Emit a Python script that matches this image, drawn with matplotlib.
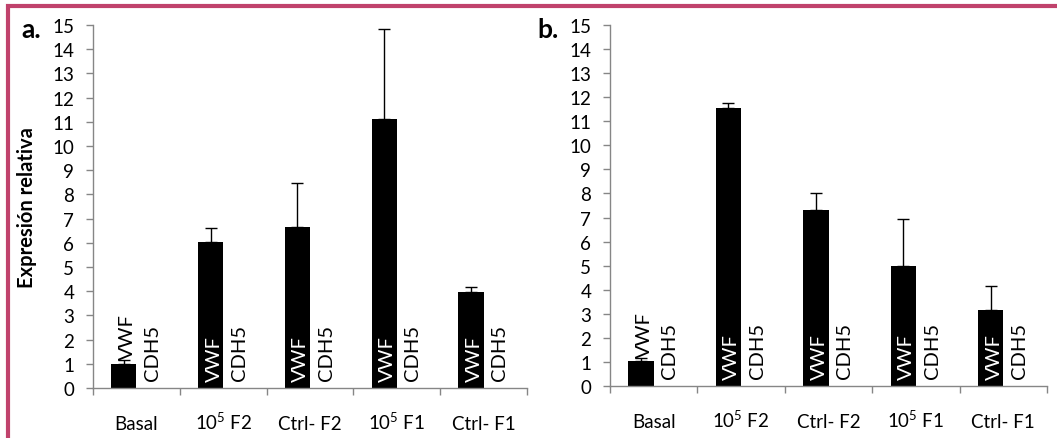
import matplotlib
matplotlib.use("Agg")
import matplotlib.pyplot as plt
import matplotlib.transforms as mtransforms
from matplotlib.patches import Rectangle
import numpy as np

plt.rcParams['font.family'] = ['Lato', 'DejaVu Sans']
plt.rcParams['mathtext.fontset'] = 'custom'
plt.rcParams['mathtext.rm'] = 'Lato'
plt.rcParams['mathtext.it'] = 'Lato'

# Data
categories = ["Basal", "10$^{5}$ F2", "Ctrl- F2", "10$^{5}$ F1", "Ctrl- F1"]
genes = ["VWF", "CDH5"]

vwf_a = [1.0, 6.05, 6.67, 11.1, 3.97]
vwf_a_err = [0.14, 0.57, 1.82, 3.72, 0.19]
cdh5_a = [0.0, 0.0, 0.0, 0.0, 0.0]

vwf_b = [1.02, 11.55, 7.32, 5.0, 3.14]
vwf_b_err = [0.13, 0.22, 0.72, 1.93, 1.0]
cdh5_b = [0.0, 0.0, 0.0, 0.0, 0.0]

W, H = 1057, 439
fig = plt.figure(figsize=(W / 100, H / 100), dpi=100)

AXIS_GRAY = "#868686"
BORDER = "#C0426C"
TICK_FS = 13.5
BAR_FS = 14.5


def px_rect(l, t, r, b):
    return [l / W, 1 - b / H, (r - l) / W, (b - t) / H]


def draw_panel(ax, vwf, vwf_err, cdh5, show_ylabel):
    x = np.arange(len(categories))
    width = 0.29
    ax.bar(x - width / 2, vwf, width, color="black", zorder=2)
    ax.errorbar(x - width / 2, vwf, yerr=[np.zeros(len(vwf)), vwf_err],
                fmt="none", ecolor="black", elinewidth=1.0, capsize=4,
                capthick=1.0, zorder=3)
    ax.bar(x + width / 2, cdh5, width, color="black", zorder=2)

    ax.set_xlim(-0.5, len(categories) - 0.5)
    ax.set_ylim(0, 15)
    ax.set_yticks(range(0, 16))

    # category boundaries as tick marks
    ax.set_xticks(np.arange(-0.5, len(categories)))
    ax.set_xticklabels([])
    ax.tick_params(axis="x", length=5, width=1, color=AXIS_GRAY, direction="out")
    ax.tick_params(axis="y", length=5, width=1, color=AXIS_GRAY,
                   direction="out", labelsize=TICK_FS, pad=8.5)

    # category names, sharing one baseline below the axis
    name_tr = mtransforms.offset_copy(ax.get_xaxis_transform(), fig=fig,
                                      x=0, y=-29.5, units="points")
    for i, name in enumerate(categories):
        ax.text(x[i], 0, name, ha="center", va="baseline", fontsize=TICK_FS,
                transform=name_tr)

    for s in ["top", "right"]:
        ax.spines[s].set_visible(False)
    for s in ["left", "bottom"]:
        ax.spines[s].set_color(AXIS_GRAY)
        ax.spines[s].set_linewidth(1.0)

    # gene labels on each bar
    for i in range(len(categories)):
        xv = x[i] - width / 2
        if vwf[i] > 2.5:
            tr = mtransforms.offset_copy(ax.transData, fig=fig, x=2.5, y=5, units="points")
            ax.text(xv, 0, genes[0], rotation=90, ha="center", va="bottom",
                    color="white", fontsize=BAR_FS, transform=tr, zorder=4)
        else:
            tr = mtransforms.offset_copy(ax.transData, fig=fig, x=2.5, y=1, units="points")
            ax.text(xv, vwf[i] + vwf_err[i], genes[0], rotation=90, ha="center",
                    va="bottom", color="black", fontsize=BAR_FS, transform=tr,
                    zorder=4)
        xc = x[i] + width / 2
        tr = mtransforms.offset_copy(ax.transData, fig=fig, x=2.5, y=6, units="points")
        ax.text(xc, cdh5[i], genes[1], rotation=90, ha="center", va="bottom",
                color="black", fontsize=BAR_FS, transform=tr, zorder=4)

    if show_ylabel:
        ax.set_ylabel("Expresión relativa", fontsize=14.5, fontweight="bold",
                      labelpad=11)


ax_a = fig.add_axes(px_rect(93, 26, 527, 389))
draw_panel(ax_a, vwf_a, vwf_a_err, cdh5_a, True)

ax_b = fig.add_axes(px_rect(610, 26, 1047, 387))
draw_panel(ax_b, vwf_b, vwf_b_err, cdh5_b, False)

fig.text(21 / W, 1 - 38 / H, "a.", fontsize=19, fontweight="bold", va="baseline")
fig.text(537 / W, 1 - 38 / H, "b.", fontsize=19, fontweight="bold", va="baseline")

# frame around the figure
fig.patches.append(Rectangle((8 / W, -0.1), 1.2, 1 - 7 / H + 0.1,
                             transform=fig.transFigure, fill=False,
                             edgecolor=BORDER, linewidth=3, zorder=10))

fig.savefig("out.png", dpi=100)
